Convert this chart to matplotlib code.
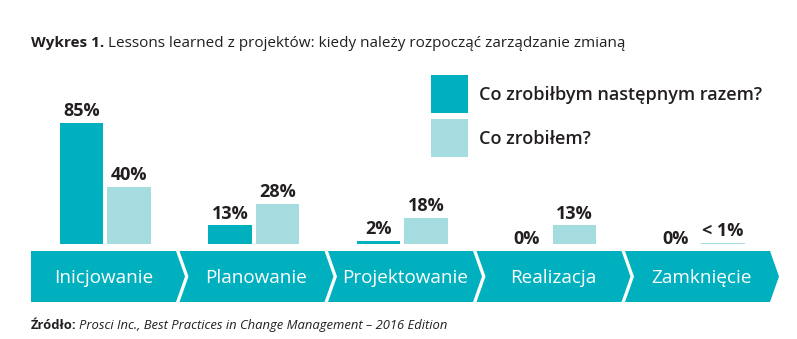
import numpy as np
import matplotlib.pyplot as plt
from matplotlib.patches import Polygon, Rectangle

phases = ["Inicjowanie", "Planowanie", "Projektowanie", "Realizacja", "Zamknięcie"]
next_time = [85, 13, 2, 0, 0]
did = [40, 28, 18, 13, 1]
next_labels = ["85%", "13%", "2%", "0%", "0%"]
did_labels = ["40%", "28%", "18%", "13%", "< 1%"]
series = ["Co zrobiłbym następnym razem?", "Co zrobiłem?"]

DARK = "#00b0bf"
LIGHT = "#a5dcdf"
INK = "#231f20"
FONT = "Open Sans"

plt.rcParams["font.family"] = [FONT, "DejaVu Sans"]

W, H = 797, 339
fig = plt.figure(figsize=(W / 100, H / 100), dpi=100)

# overlay in pixel units for title, legend, phase arrows and source
bg = fig.add_axes([0, 0, 1, 1])
bg.set_xlim(0, W)
bg.set_ylim(H, 0)
bg.axis("off")

# bar area: one unit per phase
step = 148.5
left = 31
base = 244
top = 80
px_per_pct = 1.424
ax = fig.add_axes([left / W, (H - base) / H, 5 * step / W, (base - top) / H])
ax.set_xlim(-0.5, 4.5)
ax.set_ylim(0, (base - top) / px_per_pct)
ax.axis("off")

x = np.arange(len(phases))
bw = 0.29
off = 0.16
ax.bar(x - off, next_time, bw, color=DARK)
ax.bar(x + off, did, bw, color=LIGHT)


def label(xs, vals, texts):
    for xi, v, t in zip(xs, vals, texts):
        pad = 5 if v > 0 else 0
        ax.annotate(t, (xi, v), xytext=(0, pad), textcoords="offset points",
                    ha="center", va="baseline", fontsize=13, fontweight="bold",
                    color=INK)


label(x - off, next_time, next_labels)
label(x + off, did, did_labels)

# phase arrows
tip = 9
y0, y1 = 251, 302
ym = (y0 + y1) / 2
for i, name in enumerate(phases):
    L = left + step * i
    R = L + 145
    pts = [(L, y0), (R, y0), (R + tip, ym), (R, y1), (L, y1)]
    if i > 0:
        pts.append((L + tip, ym))
    bg.add_patch(Polygon(pts, closed=True, facecolor=DARK, edgecolor="none"))
    cx = (L + R) / 2 + (tip / 2 if i > 0 else 0)
    bg.text(cx, 283, name, ha="center", va="baseline", color="white",
            fontsize=13.6)

# legend
for j, (name, col) in enumerate(zip(series, [DARK, LIGHT])):
    ty = 75 + 44 * j
    bg.add_patch(Rectangle((431, ty), 37, 38, facecolor=col, edgecolor="none"))
    bg.text(479, ty + 25, name, ha="left", va="baseline", fontsize=13,
            fontweight="semibold", color=INK)

# title and source, bold lead-in followed by plain text
fig.canvas.draw()
renderer = fig.canvas.get_renderer()


def two_part(y, first, rest, size, rest_style):
    t = bg.text(31, y, first, ha="left", va="baseline", fontsize=size,
                fontweight="bold", color=INK)
    bb = t.get_window_extent(renderer)
    x2 = bb.x1 + size * 0.3
    bg.text(x2, y, rest, ha="left", va="baseline", fontsize=size,
            color=INK, style=rest_style)


two_part(47, "Wykres 1.", "Lessons learned z projektów: kiedy należy rozpocząć zarządzanie zmianą",
         10.95, "normal")
two_part(329, "Źródło:", "Prosci Inc., Best Practices in Change Management – 2016 Edition",
         9.4, "italic")

fig.savefig("out.png", dpi=100)
